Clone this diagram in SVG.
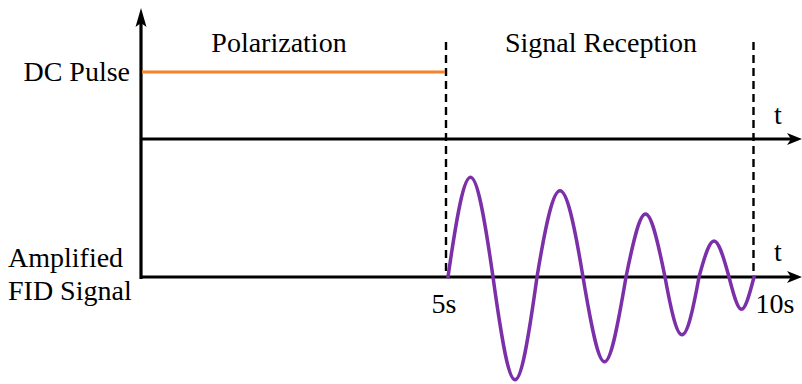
<svg xmlns="http://www.w3.org/2000/svg" width="802" height="384" viewBox="0 0 802 384">
<style>
text{font-family:'Liberation Serif','Times New Roman','DejaVu Serif',serif;font-size:28px;fill:#000}
.ax{stroke:#000;stroke-width:3.2;fill:none}
.dash{stroke:#000;stroke-width:2.4;stroke-dasharray:8 5;fill:none}
.head{fill:#000;stroke:none}
</style>
<rect width="802" height="384" fill="#fff"/>
<g id="axes">
<line class="ax" x1="141" y1="279" x2="141" y2="20"/>
<path class="head" d="M141,8 L135.5,27 L141,23 L146.5,27 Z"/>
<line class="ax" x1="141" y1="139" x2="795" y2="139"/>
<path class="head" d="M802,139 L787,133 L791,139 L787,145 Z"/>
<line class="ax" x1="141" y1="277" x2="795" y2="277"/>
<path class="head" d="M802,277 L787,271 L791,277 L787,283 Z"/>
</g>
<g id="connectors">
<line class="dash" x1="446" y1="42" x2="446" y2="277"/>
<line class="dash" x1="753.5" y1="42" x2="753.5" y2="277"/>
</g>
<g id="dc-pulse">
<line x1="142" y1="72" x2="445" y2="72" stroke="#F5822A" stroke-width="3"/>
</g>
<g id="fid-signal">
<path fill="none" stroke="#7B2FA8" stroke-width="3.5" stroke-linecap="round" d="M448,277 C467,144 474,144 493,277 C512,414 518,414 537,277 C556,162 564,162 583,277 C602,390 607,390 626,277 C643,193 648,193 665,277 C679,354 685,354 699,277 C712,229 716,229 729,277 C740,320 743,320 754,277"/>
</g>
<g id="labels" font-family="'Liberation Serif', 'Times New Roman', serif" font-size="28">
<text x="279" y="52" text-anchor="middle">Polarization</text>
<text x="601" y="52" text-anchor="middle">Signal Reception</text>
<text x="130" y="81" text-anchor="end">DC Pulse</text>
<text x="778" y="124" text-anchor="middle">t</text>
<text x="778" y="261" text-anchor="middle">t</text>
<text x="8" y="267">Amplified</text>
<text x="8" y="300">FID Signal</text>
<text x="444" y="313" text-anchor="middle">5s</text>
<text x="775" y="313" text-anchor="middle">10s</text>
</g>
</svg>
